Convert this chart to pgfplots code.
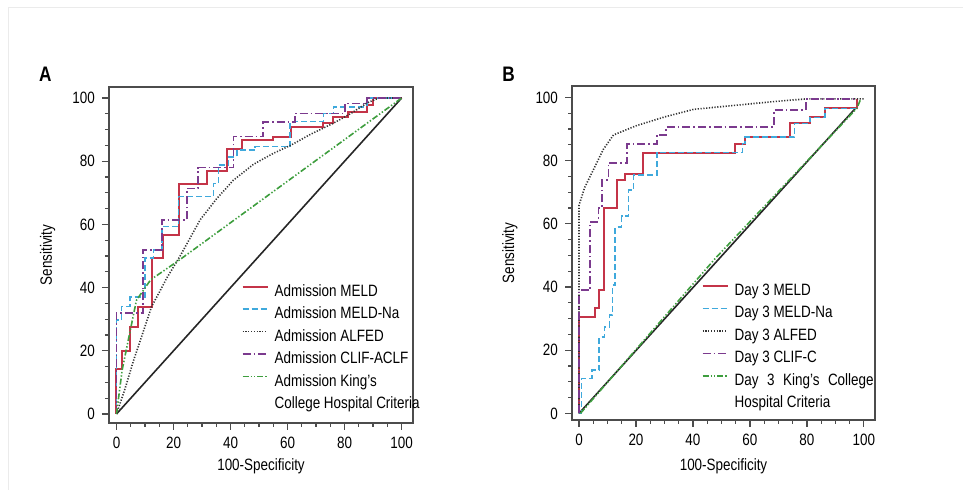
\documentclass[border=0pt]{standalone}
\usepackage{fontspec}
\setmainfont{Liberation Sans}[FakeStretch=0.82]
\usepackage{pgfplots}
\pgfplotsset{compat=1.18}
\definecolor{meldred}{HTML}{C43448}
\definecolor{nablue}{HTML}{3FA9DC}
\definecolor{clifpurple}{HTML}{7B3A8E}
\definecolor{kcgreen}{HTML}{3E9E3E}
\newcommand\lab{\fontsize{8.2}{9.8}\selectfont}

\pgfplotsset{
  rocaxis/.style={
    scale only axis,
    xtick={0,20,...,100}, ytick={0,20,...,100},
    minor tick num=3,
    xtick pos=left, ytick pos=left,
    tick align=outside,
    major tick length=3.5pt, minor tick length=2pt,
    tick style={black!70, line width=0.6pt},
    axis line style={black!70, line width=0.75pt},
    /pgf/number format/assume math mode=true,
    ticklabel style={font=\lab},
    label style={font=\lab},
    xlabel={100-Specificity}, ylabel={Sensitivity},
    legend cell align=left,
    legend style={draw=none, fill=none, inner sep=0pt, outer sep=0pt,
      font=\lab, anchor=north west, row sep=3.25pt, column sep=3pt,
      nodes={inner sep=0pt, text height=6pt, text depth=2pt}},
    legend image code/.code={\draw[##1] (0pt,2.8pt) -- (12.5pt,2.8pt);},
  },
  meld/.style={meldred, line width=1pt},
  meldna/.style={nablue, line width=0.75pt, dash pattern=on 3pt off 1.5pt},
  alfed/.style={black!80, line width=0.8pt, dash pattern=on 0.6pt off 0.8pt},
  clif/.style={clifpurple, line width=0.85pt, dash pattern=on 4pt off 1.5pt on 0.8pt off 1.5pt},
  kings/.style={kcgreen, line width=0.8pt, dash pattern=on 3pt off 1pt on 0.7pt off 1pt on 0.7pt off 1pt},
  diag/.style={black!85, line width=0.8pt},
}

\begin{document}
\begin{tikzpicture}
\useasboundingbox (0,0) rectangle (481.5pt,-245pt);
\draw[black!8, line width=0.5pt] (4pt,-245pt) -- (4pt,-4pt) -- (481.5pt,-4pt);

\node[font=\fontsize{10.5}{12}\selectfont\bfseries] at (22.65pt,-37pt) {A};
\node[font=\fontsize{10.5}{12}\selectfont\bfseries] at (254.25pt,-37pt) {B};

% ---- panel A: admission scores
\begin{axis}[rocaxis,
  at={(54.5pt,-211.5pt)}, anchor=south west,
  width=152pt, height=168pt,
  xmin=-2.63, xmax=104.0, ymin=-2.85, ymax=103.5,
  xlabel style={at={(axis description cs:0.5,-0.128)}, anchor=center},
  ylabel style={at={(axis description cs:-0.202,0.5)}, anchor=center},
  legend style={at={(axis cs:43.9,41.1)}},
]
\addplot[diag, forget plot] coordinates {(0,0) (100,100)};
\addplot[meld] coordinates {
(0,0) (0,14.1) (1.8,14.1) (1.8,19.9) (4.7,19.9) (4.7,27.6) (7.6,27.6)
(7.6,34) (12.3,34) (12.3,49.3) (16.4,49.3) (16.4,56.6) (21.9,56.6)
(21.9,72.8) (31.9,72.8) (31.9,77) (38.9,77) (38.9,83.8) (43.9,83.8)
(43.9,86.7) (55,86.7) (55,87.8) (61.2,87.8) (61.2,90.9) (72.3,90.9)
(72.3,92) (76,92) (76,94.1) (81.3,94.1) (81.3,95.7) (87.8,95.7) (87.8,97.8)
(90.1,97.8) (90.1,100) (100,100)};
\addplot[meldna] coordinates {
(0,0) (0,29.7) (1.8,29.7) (1.8,34) (4.7,34) (4.7,37) (10,37) (10,49.3)
(12.9,49.3) (12.9,51.9) (15.9,51.9) (15.9,59.3) (21.7,59.3) (21.7,68.8)
(34,68.8) (34,73) (35.7,73) (35.7,78.8) (39.2,78.8) (39.2,81.4)
(42.2,81.4) (42.2,83.5) (48.6,83.5) (48.6,84.6) (60.9,84.6) (60.9,92.5)
(72.6,92.5) (72.6,95.1) (76.1,95.1) (76.1,97.2) (87.8,97.2) (87.8,100) (100,100)};
\addplot[alfed] coordinates {
(0,0) (3,8) (6,17) (9,25) (12.3,34) (15,38.5) (17.6,43) (22,49.5) (26,56)
(29.3,61.4) (35,68) (41,74) (48,79) (55,82.5) (61,85) (68,88.5) (76,92)
(82,95) (88,98.5) (92,100) (100,100)};
\addplot[clif] coordinates {
(0,0) (0,31.9) (9.4,31.9) (9.4,52) (15.9,52) (15.9,61.4) (24.8,61.4)
(24.8,71.4) (28.7,71.4) (28.7,78) (41,78) (41,87.8) (51.5,87.8) (51.5,92.5)
(62.6,92.5) (62.6,95.1) (80.2,95.1) (80.2,98.3) (87.8,98.3) (87.8,100) (100,100)};
\addplot[kings] coordinates {
(0,0) (2,14) (7,36) (12,42.5) (22,48.7) (100,100)};
\legend{Admission MELD, Admission MELD-Na, Admission ALFED, Admission CLIF-ACLF,
  {\rlap{\smash{\raisebox{-11.25pt}{College Hospital Criteria}}}Admission King's}}
\end{axis}

% ---- panel B: day 3 scores
\begin{axis}[rocaxis,
  at={(286pt,-210pt)}, anchor=south west,
  width=151.5pt, height=167pt,
  xmin=-2.46, xmax=103.9, ymin=-2.1, ymax=103.6,
  xlabel style={at={(axis description cs:0.5,-0.138)}, anchor=center},
  ylabel style={at={(axis description cs:-0.205,0.5)}, anchor=center},
  legend style={at={(axis cs:43.05,41.1)}},
]
\addplot[diag, forget plot] coordinates {(0,0) (97,96.5)};
\addplot[meld] coordinates {
(0,0) (0,30.6) (5.5,30.6) (5.5,33.4) (6.9,33.4) (6.9,39) (8.9,39) (8.9,65)
(13.2,65) (13.2,73.8) (16.1,73.8) (16.1,75.6) (22.3,75.6) (22.3,82.5)
(54.7,82.5) (54.7,85.4) (58.2,85.4) (58.2,87.5) (74,87.5) (74,91.8)
(81,91.8) (81,93.7) (86.3,93.7) (86.3,96.5) (97.5,96.5) (97.5,99.5)};
\addplot[meldna] coordinates {
(0,0) (0.9,0) (0.9,11) (4.5,11) (4.5,13.7) (7.1,13.7) (7.1,24.2) (8.9,24.2)
(8.9,27.4) (10.7,27.4) (10.7,31.1) (11.8,31.1) (11.8,40.6) (12.7,40.6)
(12.7,59) (15,59) (15,62.4) (17.3,62.4) (17.3,70.7) (19.1,70.7) (19.1,75.4)
(27.3,75.4) (27.3,82.5) (57.3,82.5) (57.3,85.4) (58.2,85.4) (58.2,87.5)
(75.6,87.5) (75.6,91.8) (81,91.8) (81,93.7) (86.3,93.7) (86.3,96.5) (97.5,96.5)};
\addplot[alfed] coordinates {
(0,0) (0,65.9) (2,71.5) (5,77) (8.5,83.5) (12.1,88.1) (20,91) (30,93.8)
(40.2,96.2) (55,97.5) (70,98.8) (79.6,99.5) (100,99.5)};
\addplot[clif] coordinates {
(0,0) (0,39) (3.9,39) (3.9,60.6) (6.8,60.6) (6.8,65) (8,65) (8,73.8)
(10.3,73.8) (10.3,79.3) (16.8,79.3) (16.8,85.2) (27.3,85.2) (27.3,88.1)
(30.6,88.1) (30.6,90.7) (68.4,90.7) (68.4,96) (79.6,96) (79.6,99.5) (97.5,99.5)};
\addplot[kings] coordinates {
(0.5,0) (48,49.2) (97.5,96.5) (98.9,99.5)};
\legend{Day 3 MELD, Day 3 MELD-Na, Day 3 ALFED, Day 3 CLIF-C,
  {\rlap{\smash{\raisebox{-11.25pt}{Hospital Criteria}}}\makebox[69.5pt][s]{Day 3 King's College}}}
\end{axis}
\end{tikzpicture}
\end{document}
